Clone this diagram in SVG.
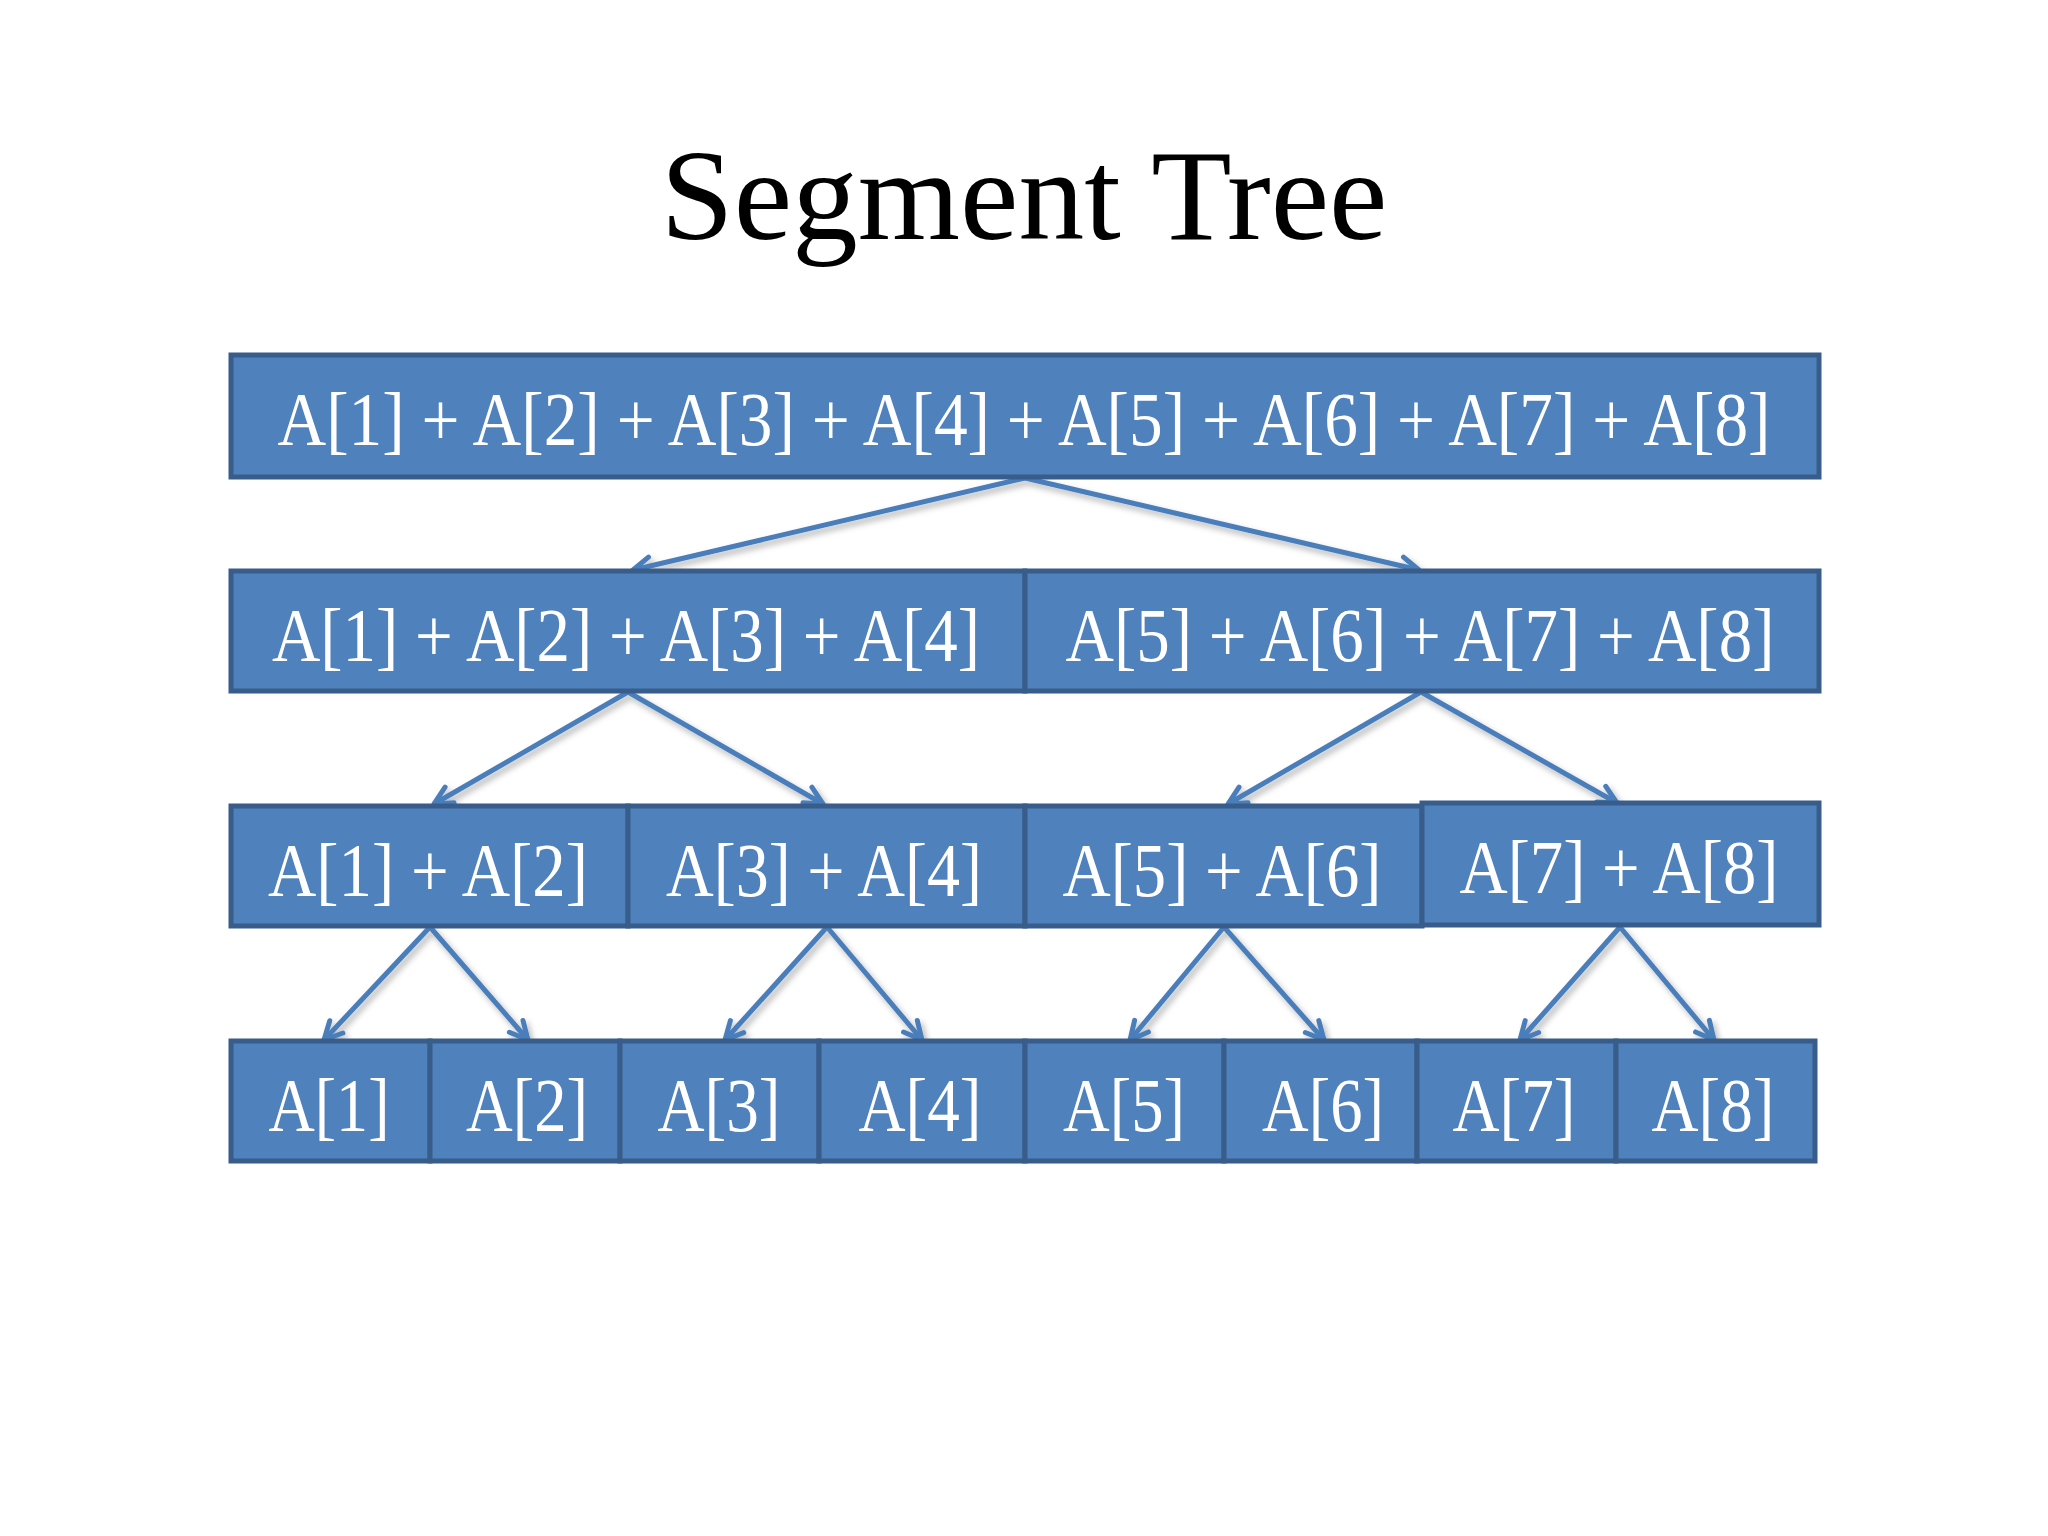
<svg xmlns="http://www.w3.org/2000/svg" width="2048" height="1536" viewBox="0 0 2048 1536">
<defs>
<style>
.box{fill:#4F81BD;stroke:#385D8A;stroke-width:5}
.lbl{font-family:"Liberation Serif",serif;font-size:77px;fill:#fff;text-anchor:middle}
.title{font-family:"Liberation Serif",serif;font-size:130px;fill:#000;text-anchor:middle}
.conn{stroke:#4A7EBB;stroke-width:5;fill:none;marker-end:url(#arr)}
</style>
<marker id="arr" markerUnits="userSpaceOnUse" viewBox="0 0 24 24" refX="21" refY="12" markerWidth="24" markerHeight="24" orient="auto">
<path d="M3,3 L21,12 L3,21" fill="none" stroke="#4A7EBB" stroke-width="5" stroke-linecap="round" stroke-linejoin="round"/>
</marker>
<filter id="sh" x="-20%" y="-20%" width="140%" height="140%">
<feDropShadow dx="3" dy="4" stdDeviation="3" flood-color="#000" flood-opacity="0.3"/>
</filter>
</defs>
<rect width="2048" height="1536" fill="#fff"/>
<text class="title" x="1024" y="239" textLength="727" lengthAdjust="spacingAndGlyphs">Segment Tree</text>

<g id="connectors" filter="url(#sh)">
<line class="conn" x1="1025" y1="478" x2="633" y2="570"/>
<line class="conn" x1="1025" y1="478" x2="1419" y2="570"/>
<line class="conn" x1="628" y1="692" x2="434" y2="804"/>
<line class="conn" x1="628" y1="692" x2="823" y2="804"/>
<line class="conn" x1="1421" y1="692" x2="1228" y2="804"/>
<line class="conn" x1="1421" y1="692" x2="1617" y2="803"/>
<line class="conn" x1="430" y1="927" x2="324" y2="1040"/>
<line class="conn" x1="430" y1="927" x2="528" y2="1040"/>
<line class="conn" x1="827" y1="927" x2="725" y2="1040"/>
<line class="conn" x1="827" y1="927" x2="922" y2="1040"/>
<line class="conn" x1="1224" y1="927" x2="1130" y2="1040"/>
<line class="conn" x1="1224" y1="927" x2="1324" y2="1040"/>
<line class="conn" x1="1620" y1="927" x2="1520" y2="1040"/>
<line class="conn" x1="1620" y1="927" x2="1714" y2="1040"/>
</g>

<g id="n1-8"><rect class="box" x="231" y="355" width="1588" height="122"/><text class="lbl" x="1024" y="445" textLength="1493" lengthAdjust="spacingAndGlyphs">A[1] + A[2] + A[3] + A[4] + A[5] + A[6] + A[7] + A[8]</text></g>

<g id="n1-4"><rect class="box" x="231" y="571" width="794" height="120"/><text class="lbl" x="626" y="661" textLength="708" lengthAdjust="spacingAndGlyphs">A[1] + A[2] + A[3] + A[4]</text></g>
<g id="n5-8"><rect class="box" x="1025" y="571" width="794" height="120"/><text class="lbl" x="1420" y="661" textLength="709" lengthAdjust="spacingAndGlyphs">A[5] + A[6] + A[7] + A[8]</text></g>

<g id="n1-2"><rect class="box" x="231" y="806" width="397" height="120"/><text class="lbl" x="428" y="896" textLength="320" lengthAdjust="spacingAndGlyphs">A[1] + A[2]</text></g>
<g id="n3-4"><rect class="box" x="628" y="806" width="397" height="120"/><text class="lbl" x="824" y="896" textLength="316" lengthAdjust="spacingAndGlyphs">A[3] + A[4]</text></g>
<g id="n5-6"><rect class="box" x="1025" y="806" width="397" height="120"/><text class="lbl" x="1222" y="896" textLength="319" lengthAdjust="spacingAndGlyphs">A[5] + A[6]</text></g>
<g id="n7-8"><rect class="box" x="1422" y="803" width="397" height="122"/><text class="lbl" x="1619" y="893" textLength="319" lengthAdjust="spacingAndGlyphs">A[7] + A[8]</text></g>

<g id="n1"><rect class="box" x="231" y="1041" width="199" height="120"/><text class="lbl" x="329" y="1131" textLength="121" lengthAdjust="spacingAndGlyphs">A[1]</text></g>
<g id="n2"><rect class="box" x="430" y="1041" width="190" height="120"/><text class="lbl" x="527" y="1131" textLength="122" lengthAdjust="spacingAndGlyphs">A[2]</text></g>
<g id="n3"><rect class="box" x="620" y="1041" width="199" height="120"/><text class="lbl" x="719" y="1131" textLength="123" lengthAdjust="spacingAndGlyphs">A[3]</text></g>
<g id="n4"><rect class="box" x="819" y="1041" width="206" height="120"/><text class="lbl" x="920" y="1131" textLength="123" lengthAdjust="spacingAndGlyphs">A[4]</text></g>
<g id="n5"><rect class="box" x="1025" y="1041" width="199" height="120"/><text class="lbl" x="1124" y="1131" textLength="122" lengthAdjust="spacingAndGlyphs">A[5]</text></g>
<g id="n6"><rect class="box" x="1224" y="1041" width="193" height="120"/><text class="lbl" x="1323" y="1131" textLength="122" lengthAdjust="spacingAndGlyphs">A[6]</text></g>
<g id="n7"><rect class="box" x="1417" y="1041" width="199" height="120"/><text class="lbl" x="1514" y="1131" textLength="123" lengthAdjust="spacingAndGlyphs">A[7]</text></g>
<g id="n8"><rect class="box" x="1616" y="1041" width="199" height="120"/><text class="lbl" x="1713" y="1131" textLength="123" lengthAdjust="spacingAndGlyphs">A[8]</text></g>
</svg>
